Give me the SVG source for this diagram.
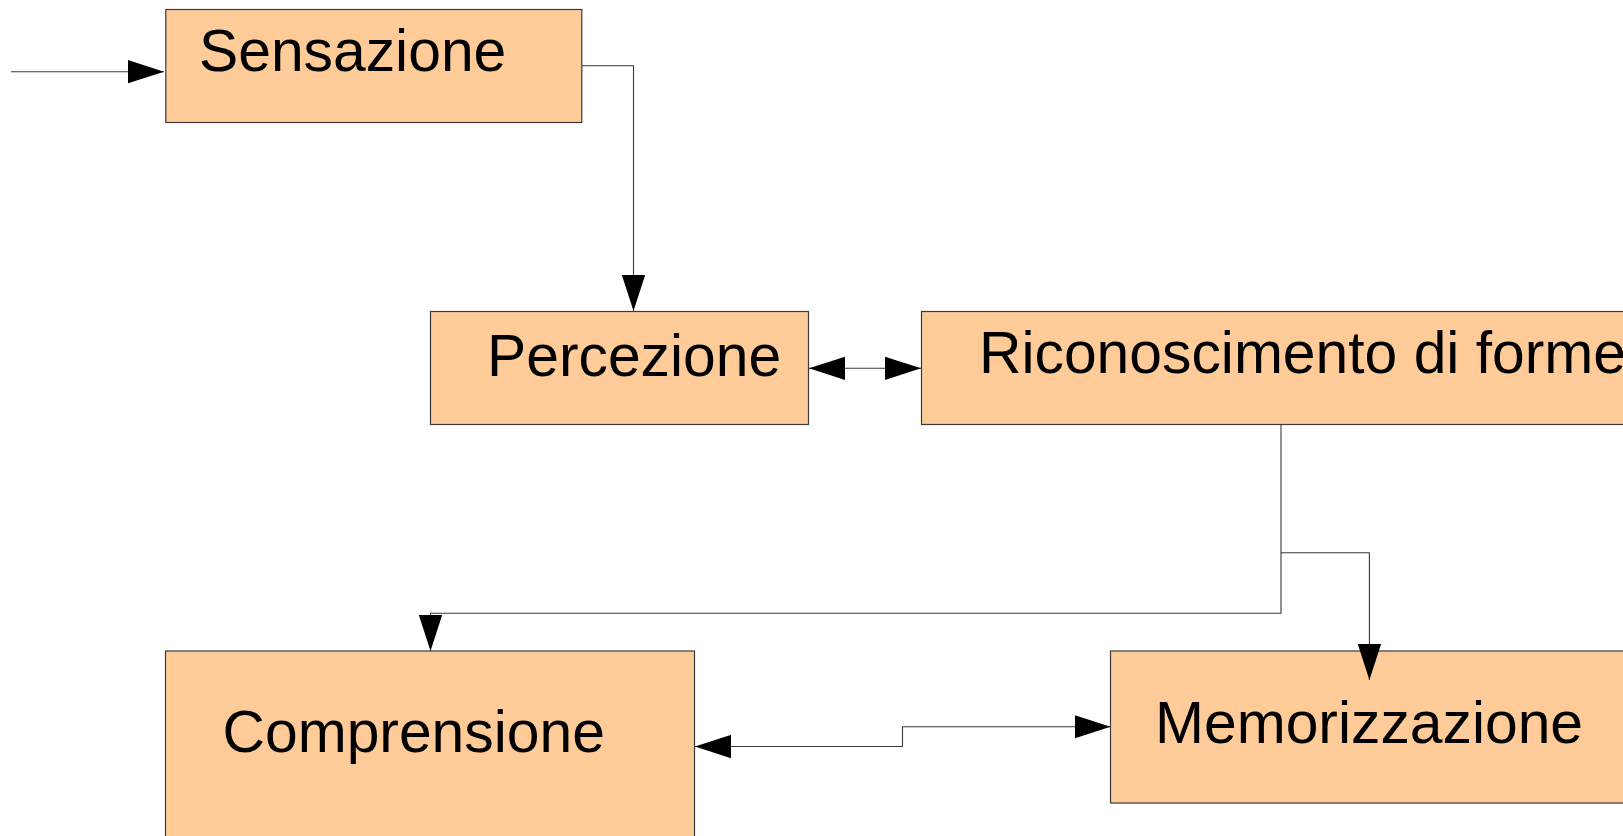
<svg xmlns="http://www.w3.org/2000/svg" width="1623" height="836" viewBox="0 0 1623 836">
<style>
.box{fill:#ffcc99;stroke:#3a3a3a;stroke-width:1.2}
.lbl{font-family:"Liberation Sans",Arial,sans-serif;font-size:58.8px;fill:#000}
.con{fill:none;stroke:#3a3a3a;stroke-width:1.1}
</style>
<defs>
<marker id="arr" markerUnits="userSpaceOnUse" markerWidth="36" markerHeight="24" viewBox="0 0 34 22" refX="34" refY="11" orient="auto-start-reverse">
<path d="M0,0 L34,11 L0,22 Z" fill="#000"/>
</marker>
</defs>
<g id="n-sensazione">
<rect class="box" x="165.8" y="9.5" width="416" height="113"/>
<text class="lbl" x="199" y="71">Sensazione</text>
</g>
<g id="n-percezione">
<rect class="box" x="430.5" y="311.5" width="378" height="113"/>
<text class="lbl" x="487" y="376">Percezione</text>
</g>
<g id="n-riconoscimento">
<rect class="box" x="921.5" y="311.5" width="720" height="113"/>
<text class="lbl" x="979" y="373">Riconoscimento di forme</text>
</g>
<g id="n-comprensione">
<rect class="box" x="165.5" y="651" width="529" height="220"/>
<text class="lbl" x="222.5" y="752">Comprensione</text>
</g>
<g id="n-memorizzazione">
<rect class="box" x="1110.5" y="651" width="530" height="152"/>
<text class="lbl" x="1155" y="743">Memorizzazione</text>
</g>
<g id="connectors">
<path class="con" d="M11,71.7 H164" marker-end="url(#arr)"/>
<path class="con" d="M581.8,65.7 H633.5 V311" marker-end="url(#arr)"/>
<path class="con" d="M809,368.3 H921" marker-start="url(#arr)" marker-end="url(#arr)"/>
<path class="con" d="M1281,424.7 V613.3 H430.5 V651" marker-end="url(#arr)"/>
<path class="con" d="M1281,552.7 H1369.4 V680" marker-end="url(#arr)"/>
<path class="con" d="M695,746.5 H902.5 V726.7 H1110.5" marker-start="url(#arr)" marker-end="url(#arr)"/>
</g>
</svg>
